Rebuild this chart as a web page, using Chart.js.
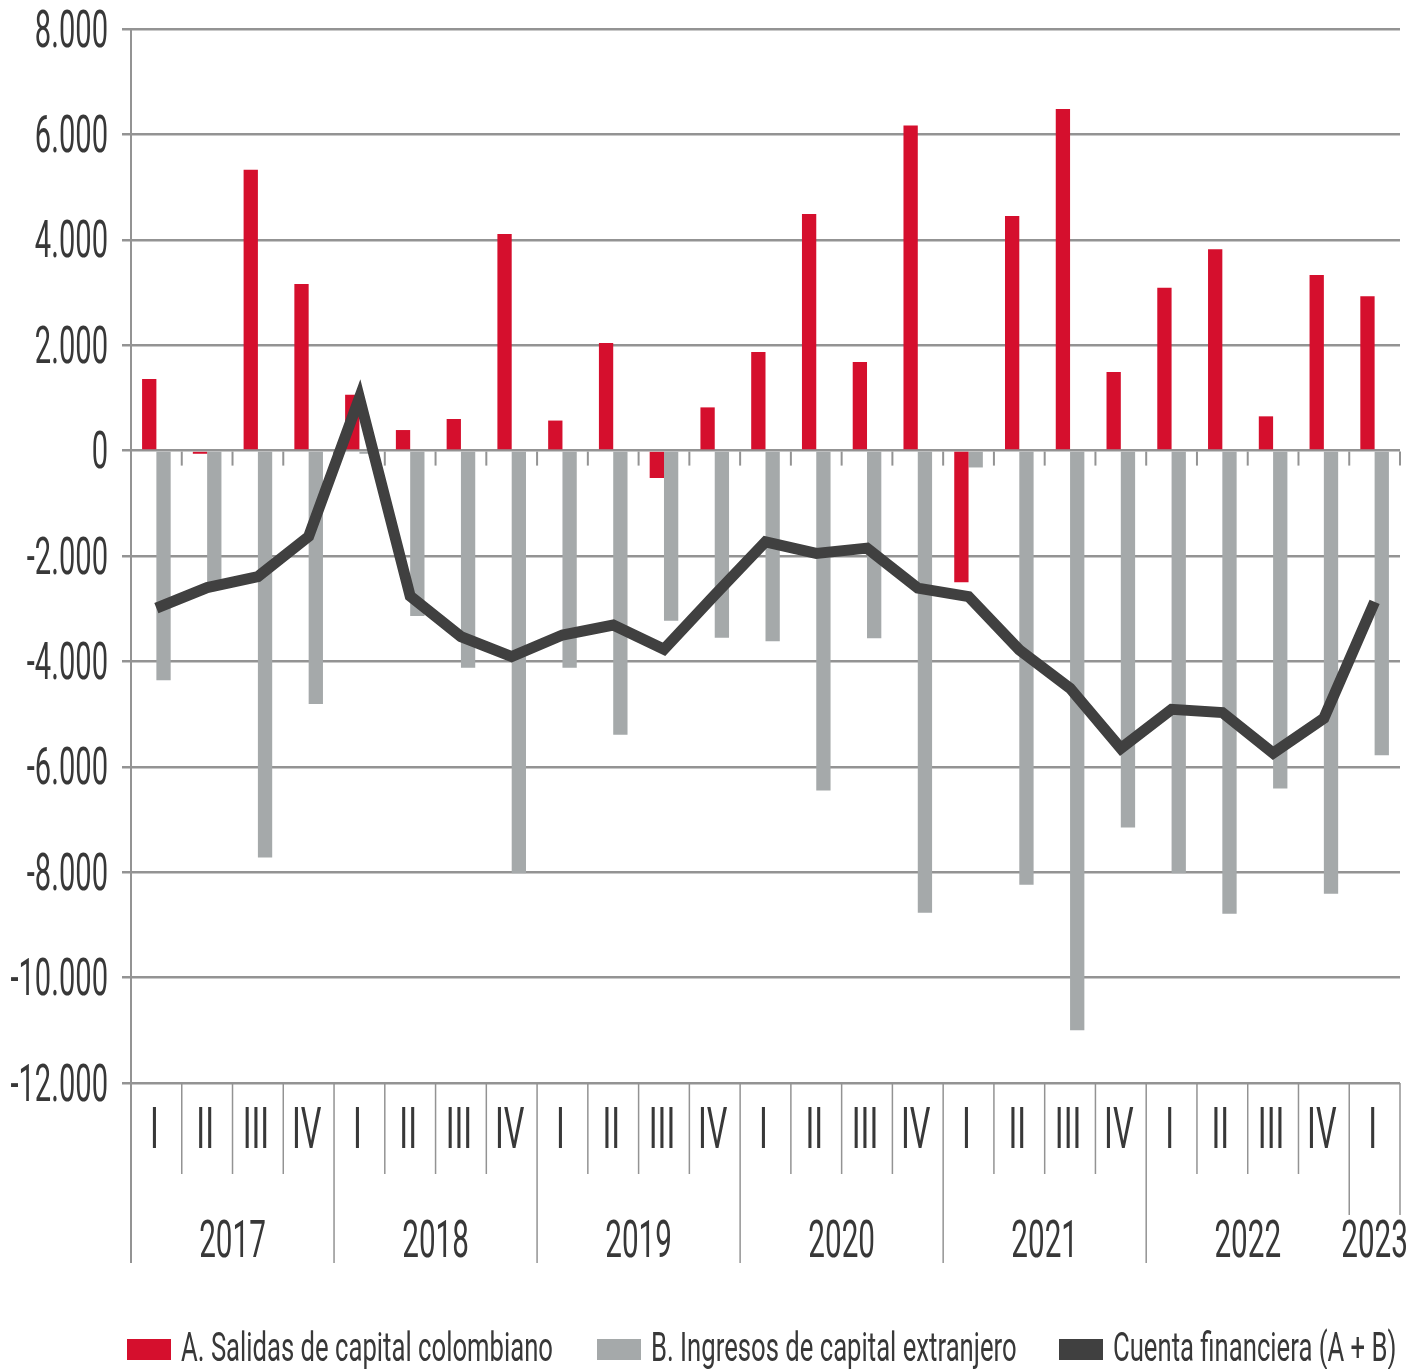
<!DOCTYPE html>
<html lang="es">
<head>
<meta charset="utf-8">
<title>Cuenta financiera</title>
<script src="https://cdn.jsdelivr.net/npm/chart.js@4.4.1/dist/chart.umd.min.js"></script>
<style>
  html, body { margin: 0; padding: 0; background: #fff; }
  canvas { display: block; }
</style>
</head>
<body>
<canvas id="chart" width="1425" height="1369"></canvas>
<script>
// Quarter labels (x axis) and the years they belong to
const quarters = ["I", "II", "III", "IV", "I", "II", "III", "IV", "I", "II", "III", "IV",
  "I", "II", "III", "IV", "I", "II", "III", "IV", "I", "II", "III", "IV", "I"];
const years = ["2017", "2018", "2019", "2020", "2021", "2022", "2023"];
const quartersPerYear = [4, 4, 4, 4, 4, 4, 1];

// Series (millones de dólares)
const salidas = [1360, -60, 5330, 3160, 1060, 390, 600, 4110, 570, 2040, -520, 820,
  1870, 4490, 1680, 6170, -2500, 4450, 6480, 1490, 3090, 3820, 650, 3330, 2930];
const ingresos = [-4360, -2540, -7720, -4810, -60, -3140, -4120, -8020, -4120, -5390, -3230, -3550,
  -3620, -6450, -3560, -8770, -320, -8240, -11000, -7150, -8020, -8790, -6410, -8410, -5780];
const cuenta = [-2990, -2600, -2390, -1630, 1000, -2760, -3530, -3910, -3500, -3310, -3770, -2740,
  -1730, -1950, -1850, -2610, -2770, -3780, -4510, -5650, -4910, -4970, -5740, -5080, -2870];

// y axis ticks
const yMin = -12000;
const yMax = 8000;
const yStep = 2000;

const FONT = "Roboto";
const TEXT_COLOR = "#383838";
const AXIS_COLOR = "#939393";

function formatThousands(v) {
  const s = String(Math.abs(v)).replace(/\B(?=(\d{3})+(?!\d))/g, ".");
  return (v < 0 ? "-" : "") + s;
}

// the original uses a condensed face, so squeeze the text horizontally
function drawNarrowText(ctx, text, x, y, size, squeeze, align) {
  ctx.save();
  ctx.translate(x, y);
  ctx.scale(squeeze, 1);
  ctx.font = size + "px " + FONT;
  ctx.textAlign = align;
  ctx.textBaseline = "alphabetic";
  ctx.fillStyle = TEXT_COLOR;
  ctx.fillText(text, 0, 0);
  ctx.restore();
}

function vLine(ctx, x, y1, y2, width) {
  ctx.beginPath();
  ctx.lineWidth = width;
  ctx.strokeStyle = AXIS_COLOR;
  ctx.moveTo(x, y1);
  ctx.lineTo(x, y2);
  ctx.stroke();
}

// axis line, small ticks on the zero line and the quarter / year table below the plot
const axisDecor = {
  id: "axisDecor",
  beforeDatasetsDraw(chart) {
    const ctx = chart.ctx;
    const area = chart.chartArea;
    const x = chart.scales.x;
    const y = chart.scales.y;
    const half = (x.getPixelForValue(1) - x.getPixelForValue(0)) / 2;
    const zeroY = y.getPixelForValue(0);

    ctx.save();
    // y axis line runs down through the label table
    vLine(ctx, area.left, area.top, area.bottom + 180, 2);

    // tick marks under the zero line
    for (let i = 1; i <= quarters.length; i++) {
      const bx = x.getPixelForValue(i - 1) + half;
      vLine(ctx, bx, zeroY + 1, zeroY + 15, 2);
    }

    // separators in the label table
    let idx = 0;
    const yearEnds = [];
    quartersPerYear.forEach(n => { idx += n; yearEnds.push(idx); });
    for (let i = 1; i <= quarters.length; i++) {
      const bx = x.getPixelForValue(i - 1) + half;
      let len = 91;
      if (yearEnds.includes(i)) len = 180;
      if (i >= quarters.length - 1) len = 132;
      vLine(ctx, bx, area.bottom, area.bottom + len, 1.5);
    }
    ctx.restore();
  },
  afterDraw(chart) {
    const ctx = chart.ctx;
    const area = chart.chartArea;
    const x = chart.scales.x;
    const y = chart.scales.y;

    // y tick labels
    y.ticks.forEach(t => {
      drawNarrowText(ctx, formatThousands(t.value), 108, y.getPixelForValue(t.value) + 17.5, 52, 0.56, "right");
    });

    // quarter labels
    quarters.forEach((q, i) => {
      drawNarrowText(ctx, q, x.getPixelForValue(i) - 2, area.bottom + 65, 58, 0.56, "center");
    });

    // year labels, centred under their quarters
    let start = 0;
    years.forEach((yr, i) => {
      const end = start + quartersPerYear[i] - 1;
      const cx = (x.getPixelForValue(start) + x.getPixelForValue(end)) / 2;
      drawNarrowText(ctx, yr, cx, area.bottom + 174, 52, 0.57, "center");
      start = end + 1;
    });

    // legend
    const legendX = [127, 597, 1059];
    const legendY = 1339;
    const order = [1, 2, 0];
    order.forEach((dsIndex, k) => {
      const ds = chart.data.datasets[dsIndex];
      ctx.fillStyle = ds.type === "line" ? ds.borderColor : ds.backgroundColor;
      ctx.fillRect(legendX[k], legendY, 44, 21);
      drawNarrowText(ctx, ds.label, legendX[k] + 54, legendY + 22, 41, 0.626, "left");
    });
  }
};

function initializeChart() {
  const ctx = document.getElementById("chart").getContext("2d");

  new Chart(ctx, {
    data: {
      labels: quarters,
      datasets: [
        {
          type: "line",
          label: "Cuenta financiera (A + B)",
          data: cuenta,
          borderColor: "#404040",
          borderWidth: 11,
          pointRadius: 0,
          tension: 0,
          order: 0
        },
        {
          type: "bar",
          label: "A. Salidas de capital colombiano",
          data: salidas,
          backgroundColor: "#D50F2D",
          barPercentage: 1,
          categoryPercentage: 0.5635,
          order: 1
        },
        {
          type: "bar",
          label: "B. Ingresos de capital extranjero",
          data: ingresos,
          backgroundColor: "#A5A9AA",
          barPercentage: 1,
          categoryPercentage: 0.5635,
          order: 1
        }
      ]
    },
    options: {
      responsive: false,
      animation: false,
      layout: { padding: { top: 29, right: 25, bottom: 286, left: 0 } },
      plugins: {
        legend: { display: false },
        tooltip: { enabled: false }
      },
      scales: {
        x: {
          type: "category",
          display: false
        },
        y: {
          min: yMin,
          max: yMax,
          ticks: { stepSize: yStep, display: false },
          grid: {
            color: AXIS_COLOR,
            lineWidth: 2.5,
            drawTicks: true,
            tickLength: 9
          },
          border: { display: false },
          afterFit(scale) {
            scale.width = 131;
          }
        }
      }
    },
    plugins: [axisDecor]
  });
}

document.fonts.load("52px " + FONT).then(initializeChart, initializeChart);
</script>
</body>
</html>
